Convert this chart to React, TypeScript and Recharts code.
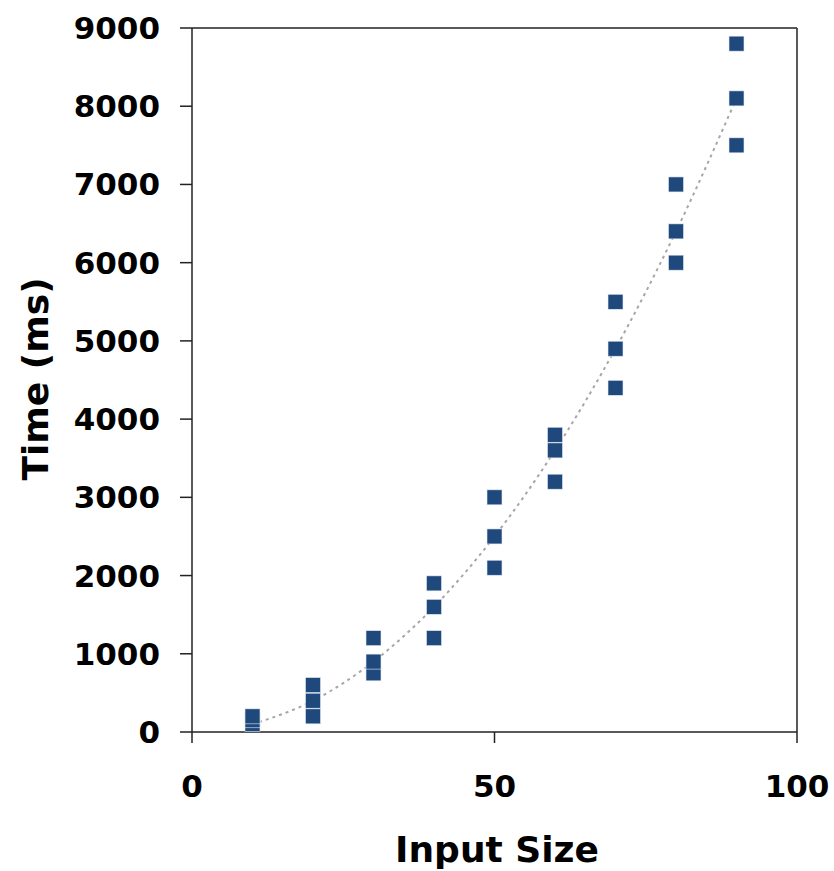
import React from 'react';
import {
  ComposedChart,
  Scatter,
  Line,
  XAxis,
  YAxis,
  ReferenceLine,
  Label,
} from 'recharts';

// measured run times, grouped by input size
const inputSizes = [10, 20, 30, 40, 50, 60, 70, 80, 90];
const runTimes = [
  [100, 150, 200],
  [200, 400, 600],
  [750, 900, 1200],
  [1200, 1600, 1900],
  [2100, 2500, 3000],
  [3200, 3600, 3800],
  [4400, 4900, 5500],
  [6000, 6400, 7000],
  [7500, 8100, 8800],
];
// dotted trend curve
const trendTimes = [100, 400, 900, 1600, 2500, 3600, 4900, 6400, 8100];

const xTicks = [0, 50, 100];
const yTicks = [0, 1000, 2000, 3000, 4000, 5000, 6000, 7000, 8000, 9000];

const points = inputSizes.flatMap((x, i) => runTimes[i].map(y => ({ x, y })));
const trend = inputSizes.map((x, i) => ({ x, y: trendTimes[i] }));

const FONT = 'DejaVu Sans';
const tickStyle = { fontFamily: FONT, fontWeight: 'bold', fontSize: 31, fill: '#000' };
const titleStyle = { fontFamily: FONT, fontWeight: 'bold', fontSize: 36, fill: '#000' };
const axisStroke = { stroke: '#222', strokeWidth: 1.5 };

const Square = (props: any) => {
  const { cx, cy } = props;
  if (cx == null || cy == null) return <g />;
  return (
    <rect
      x={cx - 7.5}
      y={cy - 7.5}
      width={15}
      height={15}
      fill="#1F497D"
      stroke="#e3eaf3"
      strokeWidth={0.6}
    />
  );
};

const App: React.FC = () => {
  return (
    <div style={{ position: 'absolute', left: 0, top: 0, background: '#fff' }}>
      <ComposedChart
        width={834}
        height={871}
        margin={{ top: 28, right: 37, left: 0, bottom: 0 }}
      >
        <XAxis
          type="number"
          dataKey="x"
          domain={[0, 100]}
          ticks={xTicks}
          tick={tickStyle}
          tickSize={11}
          tickMargin={32}
          axisLine={axisStroke}
          tickLine={axisStroke}
          height={139}
          allowDataOverflow
        >
          <Label
            content={() => (
              <text x={497} y={862} textAnchor="middle" style={titleStyle}>
                Input Size
              </text>
            )}
          />
        </XAxis>
        <YAxis
          type="number"
          dataKey="y"
          domain={[0, 9000]}
          ticks={yTicks}
          tick={tickStyle}
          tickSize={12}
          tickMargin={20}
          axisLine={axisStroke}
          tickLine={axisStroke}
          width={192}
          interval={0}
          allowDataOverflow
        >
          <Label
            content={() => (
              <text
                x={35}
                y={379}
                transform="rotate(-90 35 379)"
                textAnchor="middle"
                dominantBaseline="central"
                style={titleStyle}
              >
                Time (ms)
              </text>
            )}
          />
        </YAxis>
        <ReferenceLine y={9000} stroke="#222" strokeWidth={1.5} />
        <ReferenceLine x={100} stroke="#222" strokeWidth={1.5} />
        <Scatter
          data={points}
          dataKey="y"
          shape={Square}
          isAnimationActive={false}
        />
        <Line
          data={trend}
          dataKey="y"
          type="monotone"
          stroke="#a6a6a6"
          strokeWidth={2}
          strokeDasharray="3 4"
          dot={false}
          activeDot={false}
          isAnimationActive={false}
        />
      </ComposedChart>
    </div>
  );
};

export default App;
